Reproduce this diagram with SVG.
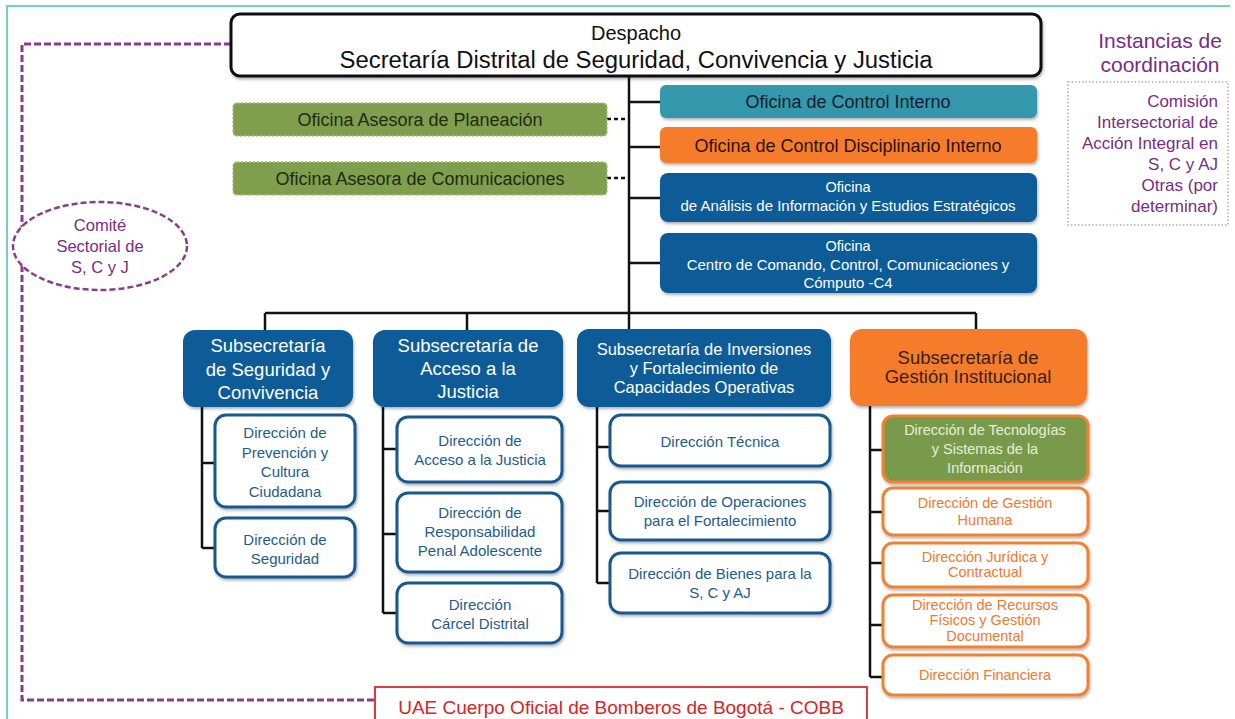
<svg xmlns="http://www.w3.org/2000/svg" width="1235" height="719" viewBox="0 0 1235 719">
<defs>
<filter id="sh" x="-10%" y="-15%" width="120%" height="140%">
<feDropShadow dx="1" dy="2" stdDeviation="1.6" flood-color="#000" flood-opacity="0.3"/>
</filter>
</defs>
<style>
text{font-family:"Liberation Sans",Arial,sans-serif;text-anchor:middle}
.ln{fill:none;stroke:#111;stroke-width:2.5}
.dash{fill:none;stroke:#111;stroke-width:2.5;stroke-dasharray:4 3}
.purp{fill:none;stroke:#8A3D8C;stroke-width:3;stroke-dasharray:7 3}
.blue{fill:#0F5B97}
.teal{fill:#3597AC}
.orng{fill:#F57B2B}
.grn{fill:#7F9F4E;stroke:#A9C27F;stroke-width:1.5;stroke-dasharray:2 2}
.cb{fill:#fff;stroke:#18598F;stroke-width:3}
.co{fill:#fff;stroke:#F08232;stroke-width:3}
.cg{fill:#7A9A4B;stroke:#F08232;stroke-width:3}
.wt{fill:#fff}
.bt{fill:#1E5B8E;font-size:15px}
.ot{fill:#EE7A2E;font-size:14.5px}
.pt{fill:#7A2B86}
</style>
<rect width="1235" height="719" fill="#fff"/>
<path d="M7 719 V6 H1230" fill="none" stroke="#74CFC9" stroke-width="2"/>

<g id="connectors">
<path class="purp" d="M231 44 H22 V700 H375"/>
<path class="ln" d="M629 76 V329 M265 313 H976 M265 313 V330 M467 313 V330 M976 313 V329"/>
<path class="ln" d="M629 102 H660 M629 147 H660 M629 198 H660 M629 263 H660"/>
<path class="dash" d="M607 119 H627 M607 178 H627"/>
<path class="ln" d="M202 407 V548 M202 463 H215 M202 548 H215"/>
<path class="ln" d="M383 407 V613 M383 449 H397 M383 534 H397 M383 613 H397"/>
<path class="ln" d="M597 407 V583 M597 447 H610 M597 511 H610 M597 583 H610"/>
<path class="ln" d="M870 406 V677 M870 450 H883 M870 512 H883 M870 563 H883 M870 625 H883 M870 677 H883"/>
</g>

<g id="despacho">
<rect x="231" y="14" width="810" height="62" rx="9" fill="#fff" stroke="#111" stroke-width="3" filter="url(#sh)"/>
<text x="636" y="40" font-size="20" fill="#111">Despacho</text>
<text x="636" y="68" font-size="23.5" fill="#111" textLength="593" lengthAdjust="spacingAndGlyphs">Secretaría Distrital de Seguridad, Convivencia y Justicia</text>
</g>

<g id="planeacion">
<rect class="grn" x="233" y="103" width="374" height="33" rx="4"/>
<text x="420" y="126" font-size="18" fill="#1F2A10">Oficina Asesora de Planeación</text>
</g>
<g id="comunicaciones">
<rect class="grn" x="233" y="162" width="374" height="33" rx="4"/>
<text x="420" y="185" font-size="18" fill="#1F2A10">Oficina Asesora de Comunicaciones</text>
</g>

<g id="control-interno">
<rect class="teal" x="660" y="85" width="377" height="33" rx="6" filter="url(#sh)"/>
<text x="848" y="108" font-size="18" fill="#10202A">Oficina de Control Interno</text>
</g>
<g id="control-disciplinario">
<rect class="orng" x="660" y="127" width="377" height="36" rx="6" filter="url(#sh)"/>
<text x="848" y="152" font-size="18" fill="#2A1206">Oficina de Control Disciplinario Interno</text>
</g>
<g id="analisis">
<rect class="blue" x="660" y="173" width="377" height="49" rx="8" filter="url(#sh)"/>
<text class="wt" x="848" y="192" font-size="14.5">Oficina</text>
<text class="wt" x="848" y="211" font-size="15">de Análisis de Información y Estudios Estratégicos</text>
</g>
<g id="c4">
<rect class="blue" x="660" y="233" width="377" height="60" rx="8" filter="url(#sh)"/>
<text class="wt" x="848" y="251" font-size="14.5">Oficina</text>
<text class="wt" x="848" y="270" font-size="15">Centro de Comando, Control, Comunicaciones y</text>
<text class="wt" x="848" y="288" font-size="15">Cómputo -C4</text>
</g>

<g id="instancias">
<text class="pt" x="1160" y="48" font-size="21">Instancias de</text>
<text class="pt" x="1160" y="72" font-size="21">coordinación</text>
<rect x="1068" y="82" width="160" height="143" fill="none" stroke="#B7A9BE" stroke-width="1.5" stroke-dasharray="1.5 2"/>
<g class="pt" font-size="17">
<text x="1218" y="107" style="text-anchor:end">Comisión</text>
<text x="1218" y="128" style="text-anchor:end">Intersectorial de</text>
<text x="1218" y="149" style="text-anchor:end">Acción Integral en</text>
<text x="1218" y="170" style="text-anchor:end">S, C y AJ</text>
<text x="1218" y="191" style="text-anchor:end">Otras (por</text>
<text x="1218" y="212" style="text-anchor:end">determinar)</text>
</g>
</g>

<g id="comite">
<ellipse cx="100" cy="246" rx="87" ry="44" fill="#fff" stroke="#8A3D8C" stroke-width="2.5" stroke-dasharray="6 3"/>
<text class="pt" x="100" y="231" font-size="16.5">Comité</text>
<text class="pt" x="100" y="252" font-size="16.5">Sectorial de</text>
<text class="pt" x="100" y="273" font-size="16.5">S, C y J</text>
</g>

<g id="subsec-seguridad">
<rect class="blue" x="183" y="330" width="170" height="77" rx="12" filter="url(#sh)"/>
<text class="wt" x="268" y="352" font-size="18.5">Subsecretaría</text>
<text class="wt" x="268" y="376" font-size="18.5">de Seguridad y</text>
<text class="wt" x="268" y="399" font-size="18.5">Convivencia</text>
</g>
<g id="dir-prevencion">
<rect class="cb" x="215" y="415" width="140" height="92" rx="11" filter="url(#sh)"/>
<text class="bt" x="285" y="438">Dirección de</text>
<text class="bt" x="285" y="458">Prevención y</text>
<text class="bt" x="285" y="477">Cultura</text>
<text class="bt" x="285" y="497">Ciudadana</text>
</g>
<g id="dir-seguridad">
<rect class="cb" x="215" y="518" width="140" height="59" rx="11" filter="url(#sh)"/>
<text class="bt" x="285" y="545">Dirección de</text>
<text class="bt" x="285" y="564">Seguridad</text>
</g>

<g id="subsec-justicia">
<rect class="blue" x="373" y="330" width="190" height="77" rx="12" filter="url(#sh)"/>
<text class="wt" x="468" y="352" font-size="18.5">Subsecretaría de</text>
<text class="wt" x="468" y="375" font-size="18.5">Acceso a la</text>
<text class="wt" x="468" y="398" font-size="18.5">Justicia</text>
</g>
<g id="dir-acceso">
<rect class="cb" x="397" y="417" width="165" height="65" rx="11" filter="url(#sh)"/>
<text class="bt" x="480" y="446">Dirección de</text>
<text class="bt" x="480" y="465">Acceso a la Justicia</text>
</g>
<g id="dir-responsabilidad">
<rect class="cb" x="397" y="493" width="165" height="79" rx="11" filter="url(#sh)"/>
<text class="bt" x="480" y="518">Dirección de</text>
<text class="bt" x="480" y="537">Responsabilidad</text>
<text class="bt" x="480" y="556">Penal Adolescente</text>
</g>
<g id="dir-carcel">
<rect class="cb" x="397" y="583" width="165" height="60" rx="11" filter="url(#sh)"/>
<text class="bt" x="480" y="610">Dirección</text>
<text class="bt" x="480" y="629">Cárcel Distrital</text>
</g>

<g id="subsec-inversiones">
<rect class="blue" x="577" y="329" width="254" height="78" rx="12" filter="url(#sh)"/>
<text class="wt" x="704" y="355" font-size="16.5">Subsecretaría de Inversiones</text>
<text class="wt" x="704" y="374" font-size="16.5">y Fortalecimiento de</text>
<text class="wt" x="704" y="393" font-size="16.5">Capacidades Operativas</text>
</g>
<g id="dir-tecnica">
<rect class="cb" x="610" y="415" width="220" height="51" rx="11" filter="url(#sh)"/>
<text class="bt" x="720" y="447">Dirección Técnica</text>
</g>
<g id="dir-operaciones">
<rect class="cb" x="610" y="482" width="220" height="58" rx="11" filter="url(#sh)"/>
<text class="bt" x="720" y="507">Dirección de Operaciones</text>
<text class="bt" x="720" y="526">para el Fortalecimiento</text>
</g>
<g id="dir-bienes">
<rect class="cb" x="610" y="553" width="220" height="60" rx="11" filter="url(#sh)"/>
<text class="bt" x="720" y="579">Dirección de Bienes para la</text>
<text class="bt" x="720" y="598">S, C y AJ</text>
</g>

<g id="subsec-gestion">
<rect class="orng" x="850" y="329" width="237" height="77" rx="12" filter="url(#sh)"/>
<text x="968" y="364" font-size="18.5" fill="#3B1E0E">Subsecretaría de</text>
<text x="968" y="383" font-size="18.5" fill="#3B1E0E">Gestión Institucional</text>
</g>
<g id="dir-tecnologias">
<rect class="cg" x="883" y="416" width="205" height="66" rx="10" filter="url(#sh)"/>
<text x="985" y="435" font-size="14.5" fill="#E6EFD6">Dirección de Tecnologías</text>
<text x="985" y="454" font-size="14.5" fill="#E6EFD6">y Sistemas de la</text>
<text x="985" y="473" font-size="14.5" fill="#E6EFD6">Información</text>
</g>
<g id="dir-humana">
<rect class="co" x="883" y="488" width="205" height="47" rx="10" filter="url(#sh)"/>
<text class="ot" x="985" y="508">Dirección de Gestión</text>
<text class="ot" x="985" y="525">Humana</text>
</g>
<g id="dir-juridica">
<rect class="co" x="883" y="543" width="205" height="44" rx="10" filter="url(#sh)"/>
<text class="ot" x="985" y="562">Dirección Jurídica y</text>
<text class="ot" x="985" y="577">Contractual</text>
</g>
<g id="dir-recursos">
<rect class="co" x="883" y="595" width="205" height="52" rx="10" filter="url(#sh)"/>
<text class="ot" x="985" y="610">Dirección de Recursos</text>
<text class="ot" x="985" y="625">Físicos y Gestión</text>
<text class="ot" x="985" y="641">Documental</text>
</g>
<g id="dir-financiera">
<rect class="co" x="883" y="655" width="205" height="40" rx="10" filter="url(#sh)"/>
<text class="ot" x="985" y="680">Dirección Financiera</text>
</g>

<g id="cobb">
<rect x="375" y="687" width="492" height="40" fill="#fff" stroke="#E03A3A" stroke-width="2"/>
<text x="621" y="714" font-size="19" fill="#D82424">UAE Cuerpo Oficial de Bomberos de Bogotá - COBB</text>
</g>
</svg>
